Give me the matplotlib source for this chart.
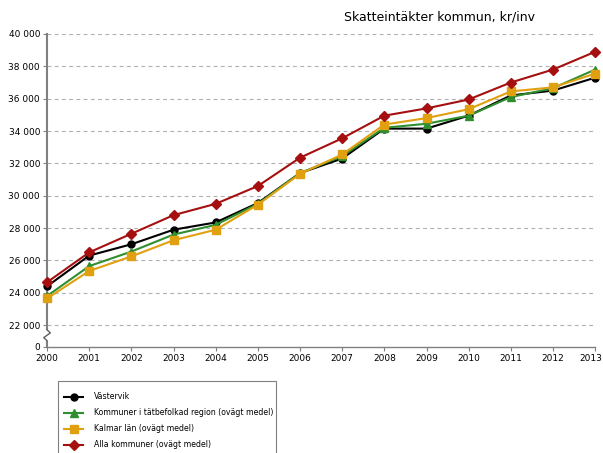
import numpy as np
import matplotlib.pyplot as plt
import matplotlib.patches as patches

years = list(range(2000, 2014))
vastervik = [24400, 26300, 27000, 27900, 28350, 29550, 31400, 32300, 34150, 34150, 34950, 36200, 36500, 37300]
tatbefolkad = [23800, 25650, 26550, 27600, 28200, 29500, 31400, 32450, 34200, 34450, 34950, 36100, 36650, 37800]
kalmar = [23650, 25350, 26250, 27250, 27900, 29450, 31350, 32550, 34400, 34800, 35350, 36450, 36700, 37550]
alla = [24650, 26500, 27650, 28800, 29500, 30600, 32350, 33550, 34950, 35400, 35950, 37000, 37800, 38900]

series_names = ['Västervik',
                'Kommuner i tätbefolkad region (ovägt medel)',
                'Kalmar län (ovägt medel)',
                'Alla kommuner (ovägt medel)']
title = 'Skatteintäkter kommun, kr/inv'

# broken axis: "0" is drawn a little below 22 000
BOTTOM = 20650
grid_vals = list(range(22000, 40001, 2000))

fig = plt.figure(figsize=(6.03, 4.53), dpi=100)
ax = fig.add_axes([0.078, 0.234, 0.909, 0.691])

styles = [
    dict(color='#000000', marker='o', ms=5),
    dict(color='#2f8f2f', marker='^', ms=5.5),
    dict(color='#e0a010', marker='s', ms=5.5),
    dict(color='#a50f0f', marker='D', ms=5),
]
data = [vastervik, tatbefolkad, kalmar, alla]
for vals, name, st in zip(data, series_names, styles):
    ax.plot(years, vals, label=name, lw=1.5, color=st['color'], marker=st['marker'],
            ms=st['ms'], mfc=st['color'], mec=st['color'], clip_on=False, zorder=3)

ax.set_xlim(2000, 2013)
ax.set_ylim(BOTTOM, 40000)
ax.set_xticks(years)
# last year label is drawn separately so it stays inside the figure
ax.set_xticklabels([str(y) for y in years[:-1]] + [''], fontsize=6.5)
ax.annotate(str(years[-1]), xy=(years[-1], 0), xycoords=ax.get_xaxis_transform(),
            xytext=(-3, -5), textcoords='offset points', ha='center', va='top', fontsize=6.5)
ax.set_yticks([BOTTOM] + grid_vals)
ax.set_yticklabels(['0'] + [f'{v:,}'.replace(',', ' ') for v in grid_vals], fontsize=6.5)

ax.grid(axis='y', color='#b0b0b0', linestyle=(0, (3.5, 3)), lw=0.8)
ax.get_ygridlines()[0].set_visible(False)
ax.set_axisbelow(True)

for s in ['top', 'right']:
    ax.spines[s].set_visible(False)
ax.spines['left'].set_color('#808080')
ax.spines['left'].set_linewidth(1.5)
ax.spines['bottom'].set_color('#808080')
ax.spines['bottom'].set_linewidth(1.0)
ax.tick_params(axis='both', colors='#808080', labelcolor='black', length=3, pad=2)

# axis break marker
bx = [0, 0.006, -0.006, 0]
by = [0.055, 0.045, 0.03, 0.02]
ax.add_patch(patches.Rectangle((-0.004, 0.02), 0.008, 0.035, transform=ax.transAxes,
                               facecolor='white', edgecolor='none', clip_on=False, zorder=4))
ax.plot(bx, by, transform=ax.transAxes, color='#606060', lw=1, clip_on=False, zorder=5)

fig.text(0.729, 0.962, title, ha='center', va='center', fontsize=9)

# legend box running off the bottom edge
fig.patches.append(patches.Rectangle((58 / 603, -0.05), 218 / 603, 0.05 + 1 - 381 / 453,
                                     transform=fig.transFigure, facecolor='white',
                                     edgecolor='#808080', lw=0.8))
leg = fig.legend(loc='upper left', bbox_to_anchor=(62 / 603, 1 - 390 / 453), fontsize=5.6,
                 frameon=False, handlelength=2.4, labelspacing=0.9, borderaxespad=0,
                 handletextpad=1.4, borderpad=0.3)

fig.savefig('out.png', dpi=100)
